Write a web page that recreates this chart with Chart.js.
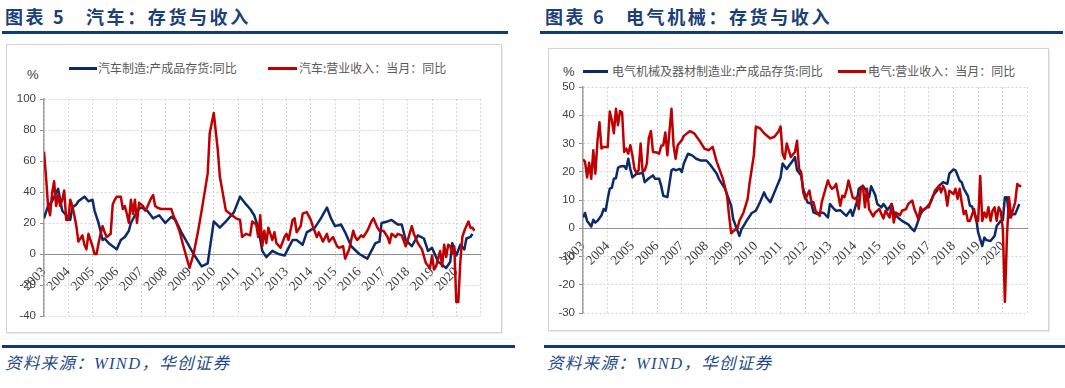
<!DOCTYPE html>
<html>
<head>
<meta charset="utf-8">
<script src="https://cdn.jsdelivr.net/npm/chart.js@4.4.1/dist/chart.umd.min.js"></script>
<style>
  body { margin: 0; width: 1065px; height: 388px; background: #fff; position: relative; overflow: hidden;
         font-family: "Noto Sans CJK SC", sans-serif; }
  .title { position: absolute; top: 6px; font-size: 18px; line-height: 20px; font-weight: bold; color: #1b3f78;
           letter-spacing: 2.6px; white-space: nowrap; }
  .rule { position: absolute; height: 2.5px; background: #0f3b7a; }
  .frame { position: absolute; border: 1px solid #d4d4d4; box-sizing: border-box; box-shadow: 1px 1px 1px #ececec; }
  .src { position: absolute; top: 352px; font-size: 16.5px; line-height: 20px; font-style: italic; color: #1f4a8a;
         letter-spacing: 1.3px; white-space: nowrap; }
  .src .en { font-family: "Liberation Serif", serif; }
  .pct { position: absolute; font-family: "Liberation Sans", sans-serif; font-size: 13px; line-height: 16px; color: #404040; }
  .lg-line { position: absolute; height: 2.5px; }
  .lg-text { position: absolute; font-size: 12px; line-height: 16px; color: #595959; white-space: nowrap; }
  canvas { position: absolute; }
</style>
</head>
<body>
<div class="title" style="left:5px">图表 5</div>
<div class="title" style="left:86px">汽车：存货与收入</div>
<div class="title" style="left:545px">图表 6</div>
<div class="title" style="left:626px">电气机械：存货与收入</div>
<div class="rule" style="left:2px;top:31px;width:506px"></div>
<div class="rule" style="left:540px;top:31px;width:523px"></div>

<div class="frame" style="left:6px;top:44px;width:496px;height:289px"></div>
<div class="frame" style="left:548px;top:48px;width:501px;height:283px"></div>

<div class="pct" style="left:27px;top:67px">%</div>
<div class="lg-line" style="left:69px;top:67px;width:28px;background:#0c2a6a"></div>
<div class="lg-text" style="left:98px;top:60px">汽车制造:产成品存货:同比</div>
<div class="lg-line" style="left:268px;top:67px;width:29px;background:#c00000"></div>
<div class="lg-text" style="left:299px;top:60px">汽车:营业收入：当月：同比</div>

<div class="pct" style="left:563px;top:64px">%</div>
<div class="lg-line" style="left:583px;top:70px;width:25px;background:#0c2a6a"></div>
<div class="lg-text" style="left:612px;top:63px">电气机械及器材制造业:产成品存货:同比</div>
<div class="lg-line" style="left:838px;top:70px;width:28px;background:#c00000"></div>
<div class="lg-text" style="left:868px;top:63px">电气:营业收入：当月：同比</div>

<canvas id="autoChart" width="496" height="289" style="left:6px;top:44px"></canvas>
<canvas id="elecChart" width="501" height="283" style="left:548px;top:48px"></canvas>

<div class="rule" style="left:2px;top:345px;width:513px"></div>
<div class="rule" style="left:544px;top:345px;width:521px"></div>
<div class="src" style="left:5px">资料来源：<span class="en">WIND</span>，华创证券</div>
<div class="src" style="left:547px">资料来源：<span class="en">WIND</span>，华创证券</div>

<script>
// year labels on the x axis (2021 is the right edge, unlabeled)
const yearLabels = ['2003','2004','2005','2006','2007','2008','2009','2010','2011','2012',
                    '2013','2014','2015','2016','2017','2018','2019','2020'];
const autoYTicks = [-40, -20, 0, 20, 40, 60, 80, 100];
const elecYTicks = [-30, -20, -10, 0, 10, 20, 30, 40, 50];

// 汽车制造:产成品存货:同比
const autoInvDates = [
  '2003-01','2003-03','2003-05','2003-08','2003-09','2003-10','2003-12',
  '2004-02','2004-03','2004-05','2004-06','2004-09','2004-11',
  '2005-01','2005-02','2005-04','2005-06','2005-07','2005-09','2005-11',
  '2006-01','2006-03','2006-05','2006-07','2006-08','2006-10','2006-12',
  '2007-01','2007-04','2007-07','2007-10',
  '2008-01','2008-04','2008-06','2008-09','2008-12',
  '2009-03','2009-07','2009-10','2009-11',
  '2010-01','2010-04','2010-07','2010-11',
  '2011-02','2011-05','2011-07','2011-09','2011-11',
  '2012-01','2012-03','2012-06','2012-09','2012-12',
  '2013-04','2013-06','2013-09','2013-11',
  '2014-03','2014-06','2014-09','2014-11',
  '2015-01','2015-04','2015-06','2015-09',
  '2016-01','2016-05','2016-07','2016-09','2016-11','2016-12',
  '2017-03','2017-05','2017-08','2017-10','2017-12',
  '2018-03','2018-06','2018-09','2018-11',
  '2019-01','2019-04','2019-05','2019-08','2019-10','2019-11',
  '2020-01','2020-03','2020-05','2020-06','2020-08','2020-09'
];
const autoInvValues = [
  23, 31, 34, 42, 35, 28, 25,
  22, 30, 32, 34, 37, 34,
  35, 28, 20, 9, 10, 7, 5,
  3, 9, 11, 15, 20, 25, 29,
  30, 28, 23, 25,
  20, 24, 22, 14, 7,
  0, -8, -6, 3,
  21, 17, 21, 27,
  37, 32, 29, 25, 17,
  2, -2, 2, 0, -1,
  9, 9, 6, 14,
  17, 23, 30, 23,
  18, 19, 14, 5,
  0, -3, 2, 7, 8, 20,
  21, 22, 19, 19, 9,
  5, 12, 10, 2,
  4, -5, -6, -9, -5, 7,
  -1, 6, 3, 10, 11, 13
];

// 汽车:营业收入：当月：同比
const autoRevDates = [
  '2003-01','2003-02','2003-03','2003-04','2003-05','2003-06','2003-07','2003-08','2003-09','2003-10','2003-11','2003-12',
  '2004-01','2004-02','2004-03','2004-04','2004-05','2004-06','2004-07','2004-08','2004-09','2004-10','2004-11','2004-12',
  '2005-01','2005-02','2005-03','2005-04','2005-05','2005-06','2005-07','2005-08','2005-09','2005-10','2005-11','2005-12',
  '2006-01','2006-02','2006-03','2006-04','2006-05','2006-06','2006-07','2006-08','2006-09','2006-10','2006-11','2006-12',
  '2007-01','2007-02','2007-03','2007-04','2007-05','2007-06','2007-07','2007-08','2007-09','2007-11',
  '2008-01','2008-04','2008-05','2008-08','2008-10',
  '2009-01','2009-03','2009-05','2009-07','2009-10','2009-11',
  '2010-01','2010-03','2010-04','2010-07','2010-10','2010-12',
  '2011-02','2011-03','2011-05','2011-07','2011-08','2011-10','2011-11','2011-12',
  '2012-01','2012-02','2012-03','2012-04','2012-06','2012-07','2012-08','2012-10','2012-12',
  '2013-01','2013-02','2013-04','2013-05','2013-06','2013-08','2013-09','2013-11',
  '2014-01','2014-02','2014-04','2014-05','2014-07','2014-09','2014-10','2014-12',
  '2015-02','2015-03','2015-05','2015-06','2015-08','2015-10','2015-11','2015-12',
  '2016-02','2016-03','2016-05','2016-07','2016-08','2016-10','2016-11',
  '2017-01','2017-03','2017-04','2017-05','2017-07','2017-08','2017-10','2017-12',
  '2018-01','2018-03','2018-04','2018-06','2018-08','2018-10','2018-12',
  '2019-01','2019-02','2019-03','2019-05','2019-06','2019-07','2019-08','2019-09','2019-10','2019-11','2019-12',
  '2020-01','2020-02','2020-03','2020-04','2020-05','2020-06','2020-07','2020-08','2020-09','2020-10'
];
const autoRevValues = [
  66, 50, 31, 25, 39, 47, 31, 38, 31, 35, 41, 22,
  22, 35, 31, 25, 18, 8, 10, 12, 6, 3, 13, 9,
  5, 0, 0, 7, 13, 18, 14, 11, 12, 13, 32, 35,
  37, 37, 37, 29, 31, 26, 20, 35, 26, 35, 20, 33,
  32, 31, 28, 30, 33, 36, 38, 31, 30, 29,
  29, 29, 25, 15, 5,
  -9, 0, 13, 28, 52, 78,
  91, 67, 50, 28, 25, 23,
  22, 11, 13, 12, 21, 19, 11, 25,
  5, 15, 7, 17, 9, 14, 7, 4, 11,
  13, 9, 22, 23, 14, 18, 26, 27,
  22, 18, 11, 14, 8, 13, 8, 11,
  5, 4, 5, -3, 3, 15, 11, 9,
  12, 11, 15, 21, 23, 17, 15,
  15, 11, 7, 13, 11, 13, 12, 5,
  9, 18, 13, 7, 3, -6, -9,
  -1, -10, -8, 2, -8, 6, -2, 6, 5, 0, 5,
  -31, -31, -5, 11, 15, 18, 21, 17, 17, 15
];

// 电气机械及器材制造业:产成品存货:同比
const elecInvDates = [
  '2003-01','2003-02','2003-03','2003-05','2003-06','2003-07','2003-08','2003-10','2003-11','2003-12',
  '2004-01','2004-02','2004-03','2004-04','2004-05','2004-06','2004-07','2004-09','2004-10','2004-11','2004-12',
  '2005-01','2005-03','2005-04','2005-06','2005-07','2005-09','2005-11','2005-12',
  '2006-02','2006-03','2006-04','2006-06','2006-08','2006-09','2006-10','2006-12',
  '2007-01','2007-02','2007-04','2007-06','2007-08','2007-10',
  '2008-01','2008-03','2008-06','2008-07','2008-10','2008-11',
  '2009-01','2009-02','2009-05','2009-06','2009-09','2009-11',
  '2010-01','2010-03','2010-05','2010-06','2010-08','2010-10',
  '2011-01','2011-02','2011-04','2011-05','2011-07','2011-08','2011-09','2011-11','2011-12',
  '2012-02','2012-04','2012-05','2012-07','2012-08','2012-10','2012-12',
  '2013-01','2013-03','2013-04','2013-06','2013-08','2013-09','2013-11','2013-12',
  '2014-02','2014-03','2014-05','2014-06','2014-08','2014-09','2014-11','2014-12',
  '2015-02','2015-03','2015-05','2015-07','2015-08','2015-10','2015-12',
  '2016-03','2016-05','2016-06','2016-07','2016-09','2016-10','2016-12',
  '2017-02','2017-03','2017-05','2017-06','2017-08','2017-10','2017-11',
  '2018-01','2018-02','2018-04','2018-05','2018-06','2018-08','2018-09','2018-10','2018-12',
  '2019-01','2019-03','2019-04','2019-05','2019-07','2019-09','2019-10','2019-12',
  '2020-01','2020-02','2020-03','2020-04','2020-05','2020-07','2020-09'
];
const elecInvValues = [
  3.8, 5.4, 2.6, 0.6, 3, 2, 2.6, 4.6, 6.8, 6.2,
  10.4, 14, 14.3, 17.5, 17.7, 21.3, 21.9, 22, 21, 24.6, 21,
  18, 19.3, 19.3, 19.6, 16.3, 17.7, 18.7, 17.5,
  17.5, 15, 11.5, 11, 20.5, 21, 20.5, 21,
  19.9, 22.9, 26.4, 25.8, 24.6, 24,
  24, 22.3, 19.3, 17.5, 14, 12,
  8, 3.2, -2.7, -0.4, 3.2, 5.4,
  6.2, 9.2, 12.7, 11, 9.2, 12.7,
  18, 22.9, 21, 22, 24, 25.2, 20.5, 18.7, 14,
  9.2, 8.6, 5.6, 5, 5.6, 5.4, 3.8,
  8.6, 6.8, 6.2, 6.4, 5, 4.4, 6.5, 4.4,
  9.2, 14, 15, 14, 11, 14.9, 11.8, 8.6,
  7.4, 8.6, 6.5, 8.6, 5.6, 3.8, 2.6,
  1.4, -0.4, -1, 0.8, 5, 6.2, 7.4,
  9.2, 11.5, 13.3, 15, 16.3, 15.7, 19.3,
  20.8, 20.5, 16.9, 16.3, 14, 11.5, 8, 7.7, 3.8,
  -1.5, -6.3, -3.3, -4.2, -4.5, -2.7, 0.8, 2.6,
  2.9, 11, 11, 3.8, 5, 5, 8.6
];

// 电气:营业收入：当月：同比
const elecRevDates = [
  '2003-01','2003-02','2003-03','2003-04','2003-05','2003-06','2003-07','2003-08','2003-09','2003-10','2003-11',
  '2004-01','2004-02','2004-03','2004-04','2004-05','2004-06','2004-07','2004-08','2004-09','2004-10','2004-11','2004-12',
  '2005-01','2005-02','2005-03','2005-04','2005-05','2005-06','2005-07','2005-08','2005-09','2005-10','2005-11',
  '2006-01','2006-02','2006-03','2006-04','2006-05','2006-06','2006-07','2006-08','2006-09','2006-10','2006-11',
  '2007-01','2007-02','2007-05','2007-07','2007-10','2007-12',
  '2008-02','2008-04','2008-06','2008-09','2008-11','2008-12',
  '2009-01','2009-02','2009-04','2009-05','2009-07','2009-09','2009-10','2009-12',
  '2010-01','2010-03','2010-05','2010-08','2010-10','2010-12',
  '2011-01','2011-02','2011-03','2011-04','2011-05','2011-06','2011-08','2011-09','2011-10','2011-11','2011-12',
  '2012-01','2012-03','2012-04','2012-05','2012-06','2012-08','2012-09','2012-10','2012-12',
  '2013-01','2013-02','2013-03','2013-04','2013-06','2013-07','2013-08','2013-09','2013-10','2013-12',
  '2014-01','2014-02','2014-03','2014-04','2014-05','2014-06','2014-07','2014-08','2014-10','2014-11',
  '2015-01','2015-02','2015-03','2015-04','2015-06','2015-07','2015-08','2015-09','2015-11','2015-12',
  '2016-02','2016-03','2016-05','2016-06','2016-07','2016-08','2016-09','2016-10','2016-12',
  '2017-01','2017-02','2017-03','2017-04','2017-06','2017-07','2017-08','2017-09','2017-10','2017-11',
  '2018-01','2018-02','2018-03','2018-04','2018-05','2018-06','2018-07','2018-08','2018-09','2018-11','2018-12',
  '2019-01','2019-02','2019-03','2019-04','2019-05','2019-06','2019-07','2019-08','2019-09','2019-10','2019-11','2019-12',
  '2020-01','2020-02','2020-03','2020-04','2020-05','2020-06','2020-07','2020-08','2020-09','2020-10'
];
const elecRevValues = [
  24.4, 23.5, 18, 23.2, 17.5, 27.6, 19.3, 30.6, 37.5, 28.2, 28.8,
  28.8, 41.3, 38.3, 33.6, 42.3, 36.5, 41.5, 41, 27, 28.2, 26.4, 29.4,
  25.8, 21, 19.6, 20.5, 30, 19.9, 20.5, 22.9, 32, 34.4, 27,
  26.8, 26.4, 29.2, 29.4, 33.9, 25.8, 34.2, 42.3, 29.4, 24.6, 29.4,
  31.2, 32.7, 34.4, 33.6, 30.6, 28.2,
  27.6, 28.8, 23.5, 17.5, 11.5, 4.4,
  -1.8, -1, -0.1, 2.6, 5.6, 10.4, 16.3, 25.8,
  36, 35.4, 33.6, 31.8, 32.4, 34.2,
  36, 26.4, 24.6, 30, 27.6, 25.2, 27, 31, 21, 19.9, 12.7,
  10.4, 13.3, 9.2, 9.2, 6.2, 4.4, 9.2, 11.8, 16.9,
  15, 14, 14.5, 15.7, 8, 11.5, 11, 13.3, 16.9, 11,
  10.4, 11, 6.8, 14, 15, 7.4, 14, 6.8, 4.2, 5.6,
  6.8, 5, 3.5, 6.2, 3.8, 8.6, 2, 5.6, 4.6, 6.2,
  6.8, 8.6, 9.8, 6.8, 5, 3.2, 7.4, 6.2, 7.4,
  7.4, 9.8, 11, 13.3, 15, 12.7, 15, 13.3, 8, 13.3,
  12.1, 14, 10.4, 14, 9.2, 5, 6.2, 2.6, 2.6, 6.8, 2.6,
  2.6, 18.5, 2.6, 5.6, 3.8, 7.4, 2.6, 6.2, 7.4, 2.6, 7.4, 6,
  -0.4, -26, -2.7, 11, 3.8, 6.8, 9.2, 15.7, 15, 15
];

const NAVY = '#0c2a6a';
const RED = '#c00000';

function toPoints(dates, values) {
  if (dates.length !== values.length) console.error('length mismatch', dates.length, values.length);
  return dates.map((d, i) => {
    const [y, m] = d.split('-').map(Number);
    return { x: y + (m - 1) / 12, y: values[i] };
  });
}

function buildChart(id, cfg) {
  const yTicks = cfg.yTicks;
  return new Chart(document.getElementById(id), {
    type: 'line',
    data: {
      datasets: [
        { label: cfg.revLabel, data: toPoints(cfg.revDates, cfg.revValues), borderColor: RED, order: 0 },
        { label: cfg.invLabel, data: toPoints(cfg.invDates, cfg.invValues), borderColor: NAVY, order: 1 }
      ]
    },
    options: {
      responsive: false,
      animation: false,
      devicePixelRatio: 1,
      layout: { padding: cfg.padding },
      plugins: { legend: { display: false }, tooltip: { enabled: false } },
      elements: {
        point: { radius: 0 },
        line: { borderWidth: 2.5, tension: 0, borderJoinStyle: 'round', fill: false }
      },
      scales: {
        x: {
          type: 'linear',
          position: { y: 0 },
          min: 2003,
          max: 2021,
          ticks: {
            stepSize: 1,
            autoSkip: false,
            minRotation: 45,
            maxRotation: 45,
            padding: 10,
            color: '#404040',
            font: { family: '"Liberation Serif", serif', size: 13.5 },
            callback: v => yearLabels.includes(String(v)) ? String(v) : ''
          },
          grid: { color: '#d6d6d6', drawTicks: false },
          border: { display: true, color: '#8f8f8f', width: 1, dash: [2, 2] }
        },
        y: {
          min: yTicks[0],
          max: yTicks[yTicks.length - 1],
          afterFit: s => { s.width = cfg.yWidth; },
          ticks: {
            stepSize: yTicks[1] - yTicks[0],
            padding: 4,
            color: '#404040',
            font: { family: '"Liberation Sans", sans-serif', size: 11.5 }
          },
          grid: { color: '#d6d6d6', tickLength: 4, tickColor: '#8f8f8f', tickBorderDash: [] },
          border: { display: true, color: '#a0a0a0', width: 1.5, dash: [2, 2] }
        }
      }
    }
  });
}

buildChart('autoChart', {
  invLabel: '汽车制造:产成品存货:同比', revLabel: '汽车:营业收入：当月：同比',
  invDates: autoInvDates, invValues: autoInvValues,
  revDates: autoRevDates, revValues: autoRevValues,
  yTicks: autoYTicks, yWidth: 38,
  padding: { left: 0, top: 55, right: 15, bottom: 17 }
});

buildChart('elecChart', {
  invLabel: '电气机械及器材制造业:产成品存货:同比', revLabel: '电气:营业收入：当月：同比',
  invDates: elecInvDates, invValues: elecInvValues,
  revDates: elecRevDates, revValues: elecRevValues,
  yTicks: elecYTicks, yWidth: 35,
  padding: { left: 0, top: 39, right: 16, bottom: 18 }
});
</script>
</body>
</html>
